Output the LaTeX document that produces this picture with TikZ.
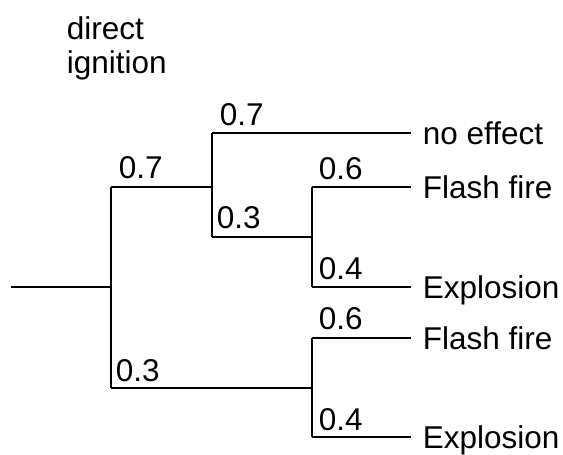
\documentclass[tikz,border=0pt]{standalone}
\usepackage{fontspec}
\setmainfont{Liberation Sans}
\begin{document}
\begin{tikzpicture}[x=1pt,y=-1pt,
  line width=1.8pt,
  every node/.style={font=\fontsize{31.5}{35}\selectfont},
  leaf/.style={anchor=west,inner xsep=11pt,inner ysep=0pt,text height=22pt,text depth=0pt},
  prob/.style={anchor=base west,inner sep=0pt}]
\useasboundingbox (0,0) rectangle (563,455);
% junctions
\coordinate (s) at (11,287);
\coordinate (j1) at (111,287);
\coordinate (a) at (111,187);
\coordinate (b) at (111,388);
\coordinate (j2) at (212,187);
\coordinate (j2t) at (212,133);
\coordinate (j2b) at (212,237);
\coordinate (j3) at (312,237);
\coordinate (j3t) at (312,187);
\coordinate (j3b) at (312,287);
\coordinate (j4) at (312,388);
\coordinate (j4t) at (312,338);
\coordinate (j4b) at (312,437);
% leaves
\node[leaf] (n1) at (411,133) {no effect};
\node[leaf] (n2) at (411,187) {Flash fire};
\node[leaf] (n3) at (411,287) {Explosion};
\node[leaf] (n4) at (411,338) {Flash fire};
\node[leaf] (n5) at (411,437) {Explosion};
% lines
\draw (s) -- (j1);
\draw (a) -- (b);
\draw (a) -- (j2);
\draw (j2t) -- (j2b);
\draw (j2t) -- (n1.west);
\draw (j2b) -- (j3);
\draw (j3t) -- (j3b);
\draw (j3t) -- (n2.west);
\draw (j3b) -- (n3.west);
\draw (b) -- (j4);
\draw (j4t) -- (j4b);
\draw (j4t) -- (n4.west);
\draw (j4b) -- (n5.west);
% probabilities
\node[prob] (p1) at (118,178) {0.7};
\node[prob] (p2) at (219,125) {0.7};
\node[prob] (p3) at (216,228) {0.3};
\node[prob] (p4) at (318,179) {0.6};
\node[prob] (p5) at (318,279) {0.4};
\node[prob] (p6) at (115,381) {0.3};
\node[prob] (p7) at (318,329) {0.6};
\node[prob] (p8) at (318,430) {0.4};
% title
\node[prob] (t1) at (66,39) {direct};
\node[prob] (t2) at (66,73) {ignition};
\end{tikzpicture}
\end{document}
